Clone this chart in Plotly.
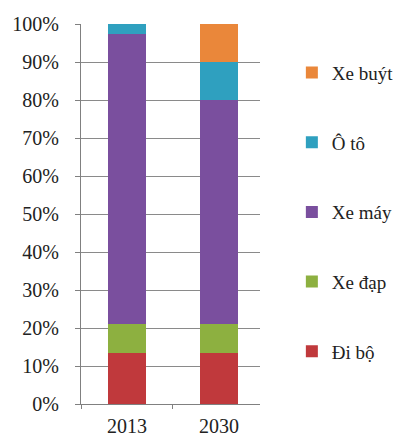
import plotly.graph_objects as go

# Modal share of trips (%), by year
years = ["2013", "2030"]
modes = ["Đi bộ", "Xe đạp", "Xe máy", "Ô tô", "Xe buýt"]
di_bo = [13.5, 13.5]
xe_dap = [7.5, 7.5]
xe_may = [76.5, 59.0]
o_to = [2.5, 10.0]
xe_buyt = [0.0, 10.0]
series = [di_bo, xe_dap, xe_may, o_to, xe_buyt]
colors = ["#C0393C", "#8DB040", "#7A4F9E", "#2FA0BF", "#EA873A"]
tick_vals = [0, 10, 20, 30, 40, 50, 60, 70, 80, 90, 100]
tick_text = [f"{v}%" for v in tick_vals]

font_family = "Liberation Serif, Times New Roman, serif"

fig = go.Figure()
for i, (name, vals, col) in enumerate(zip(modes, series, colors)):
    fig.add_trace(go.Bar(
        x=years, y=vals, name=name, marker_color=col,
        marker_line_width=0, width=0.41, legendgroup=name,
        legendrank=len(modes) - i,
    ))

fig.update_layout(
    barmode="stack",
    width=395, height=436,
    margin=dict(l=81, r=135, t=24, b=32, autoexpand=False),
    paper_bgcolor="white", plot_bgcolor="white",
    font=dict(family=font_family, size=19, color="#222"),
    showlegend=True,
    legend=dict(
        traceorder="grouped",
        x=1.178, xanchor="left", y=0.922, yanchor="top",
        tracegroupgap=42,
        font=dict(family=font_family, size=19, color="#222"),
        bgcolor="rgba(0,0,0,0)",
    ),
)
fig.update_xaxes(
    type="category", range=[-0.5, 1.446],
    showline=True, linecolor="#808080", linewidth=1.2,
    ticks="outside", tickson="boundaries", ticklen=4, tickcolor="#808080",
    ticklabelstandoff=4, automargin=False,
    tickfont=dict(family=font_family, size=20, color="#222"),
    showgrid=False, zeroline=False,
)
fig.update_yaxes(
    range=[0, 100], tickvals=tick_vals, ticktext=tick_text,
    showline=True, linecolor="#808080", linewidth=1.2,
    ticks="outside", ticklen=5, tickcolor="#808080",
    ticklabelstandoff=12, automargin=False,
    showgrid=True, gridcolor="#8a8a8a", gridwidth=1,
    zeroline=False,
    tickfont=dict(family=font_family, size=20, color="#222"),
)

fig.write_html("out.html")
